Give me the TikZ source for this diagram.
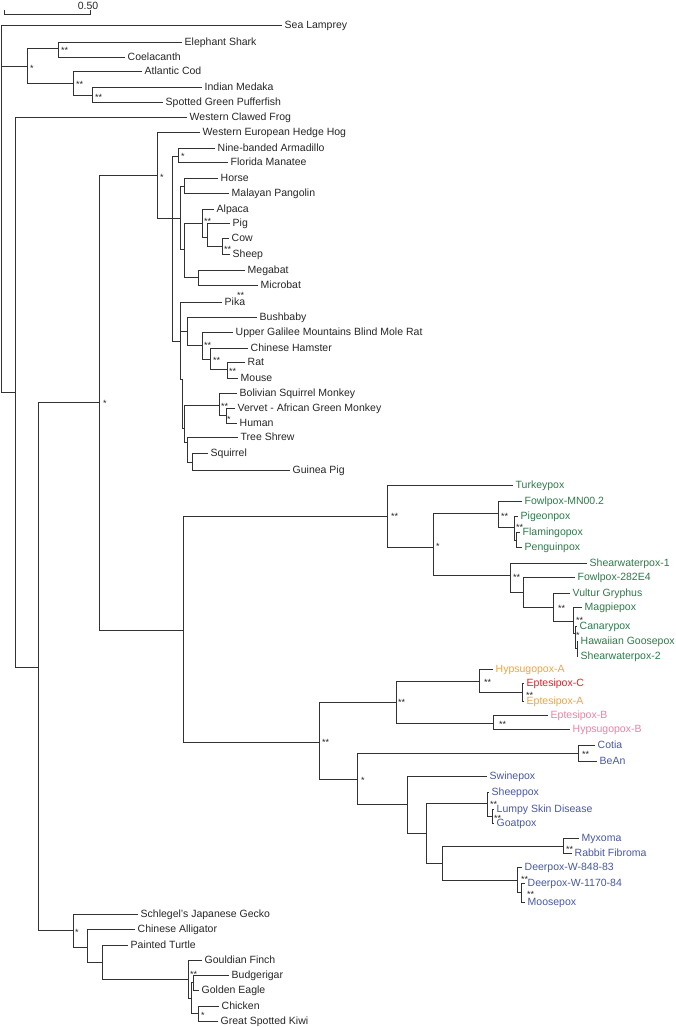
\documentclass[tikz,border=0pt]{standalone}
\usepackage{fontspec}
\setmainfont{Liberation Sans}
\definecolor{lc}{RGB}{50,50,50}
\definecolor{pg}{RGB}{45,122,75}
\definecolor{po}{RGB}{235,165,70}
\definecolor{pr}{RGB}{225,35,35}
\definecolor{pp}{RGB}{235,130,165}
\definecolor{pb}{RGB}{72,88,160}
\begin{document}
\begin{tikzpicture}[x=1pt,y=-1pt,
  br/.style={draw=lc,line width=0.85pt},
  tip/.style={anchor=west,inner xsep=2.5pt,inner ysep=0pt,text height=7.2pt,text depth=0pt,font=\fontsize{10.5}{12}\selectfont,text=black!85},
  gtip/.style={tip,text=pg},
  otip/.style={tip,text=po},
  rtip/.style={tip,text=pr},
  ptip/.style={tip,text=pp},
  btip/.style={tip,text=pb},
  supp/.style={anchor=base west,inner sep=0pt,yshift=-1.4pt,font=\fontsize{9}{10}\selectfont,text=black!85}]
\useasboundingbox (0,0) rectangle (675,1027);
% scale bar
\coordinate (sba) at (4,14);
\coordinate (sbb) at (90,14);
\draw[br] (4,10) -- (sba) -- (sbb) -- (90,10);
\node[font=\fontsize{10.5}{12}\selectfont,inner sep=0pt,text=black!85] (sbl) at (88,5.5) {0.50};
% internal coordinates
\coordinate (root) at (1,25);
\coordinate (fish) at (27,66);
\coordinate (fa) at (58,48);
\coordinate (fb) at (73,83);
\coordinate (fc) at (92,95);
\coordinate (n15) at (15,392);
\coordinate (T) at (38,667);
\coordinate (M) at (99,402);
\coordinate (Mm) at (157,175);
\coordinate (N1) at (172,218);
\coordinate (AM) at (178,156);
\coordinate (L) at (180,218);
\coordinate (HP) at (184,186);
\coordinate (L2) at (184,249);
\coordinate (A1) at (202,223);
\coordinate (PC) at (207,237);
\coordinate (CS) at (222,246);
\coordinate (Bats) at (198,277);
\coordinate (Lower) at (180,341);
\coordinate (BB) at (187,331);
\coordinate (R) at (202,345);
\coordinate (R2) at (210,359);
\coordinate (R3) at (227,369);
\coordinate (E) at (182,379);
\coordinate (F) at (184,428);
\coordinate (P1) at (219,405);
\coordinate (P2) at (226,415);
\coordinate (G) at (187,442);
\coordinate (H) at (192,462);
\coordinate (Pox) at (183,630);
\coordinate (Pt) at (387,516);
\coordinate (Av) at (433,547);
\coordinate (Fp) at (498,513);
\coordinate (Pg) at (514,527);
\coordinate (Pg2) at (516,540);
\coordinate (Sh) at (510,575);
\coordinate (Fw) at (523,592);
\coordinate (Vg) at (553,607);
\coordinate (Mg) at (573,621);
\coordinate (C1) at (575,633);
\coordinate (C2) at (577,648);
\coordinate (Bn) at (319,742);
\coordinate (Ba) at (396,702);
\coordinate (Ha) at (479,681);
\coordinate (Ec) at (522,692);
\coordinate (Eb) at (493,723);
\coordinate (Ch) at (357,779);
\coordinate (CB) at (578,753);
\coordinate (Sw) at (407,804);
\coordinate (Ot) at (426,833);
\coordinate (Cap) at (487,803);
\coordinate (Cap2) at (492,816);
\coordinate (LD) at (442,863);
\coordinate (Myx) at (563,846);
\coordinate (D1) at (517,880);
\coordinate (D2) at (521,892);
\coordinate (Rep) at (73,930);
\coordinate (Rep2) at (87,947);
\coordinate (Rep3) at (102,962);
\coordinate (B0) at (188,979);
\coordinate (B1) at (191,998);
\coordinate (B2) at (193,982);
\coordinate (CK) at (198,1013);
% tips
\node[tip] (sea) at (282,25) {Sea Lamprey};
\node[tip] (esh) at (182,42) {Elephant Shark};
\node[tip] (coe) at (125,57) {Coelacanth};
\node[tip] (cod) at (142,71) {Atlantic Cod};
\node[tip] (med) at (202,87) {Indian Medaka};
\node[tip] (puf) at (163,102) {Spotted Green Pufferfish};
\node[tip] (frog) at (187,117) {Western Clawed Frog};
\node[tip] (hed) at (200,132) {Western European Hedge Hog};
\node[tip] (arm) at (215,148) {Nine-banded Armadillo};
\node[tip] (man) at (228,162) {Florida Manatee};
\node[tip] (hor) at (218,178) {Horse};
\node[tip] (pan) at (229,193) {Malayan Pangolin};
\node[tip] (alp) at (214,209) {Alpaca};
\node[tip] (pig) at (230,223) {Pig};
\node[tip] (cow) at (229,238) {Cow};
\node[tip] (she) at (230,254) {Sheep};
\node[tip] (meg) at (245,270) {Megabat};
\node[tip] (mic) at (258,285) {Microbat};
\node[tip] (pik) at (222,302) {Pika};
\node[tip] (bus) at (257,317) {Bushbaby};
\node[tip] (upp) at (233,332) {Upper Galilee Mountains Blind Mole Rat};
\node[tip] (ham) at (248,348) {Chinese Hamster};
\node[tip] (rat) at (245,362) {Rat};
\node[tip] (mou) at (238,378) {Mouse};
\node[tip] (bol) at (237,393) {Bolivian Squirrel Monkey};
\node[tip] (ver) at (235,408) {Vervet - African Green Monkey};
\node[tip] (hum) at (237,423) {Human};
\node[tip] (tre) at (238,437) {Tree Shrew};
\node[tip] (squ) at (208,453) {Squirrel};
\node[tip] (gui) at (290,470) {Guinea Pig};
\node[gtip] (tur) at (513,485) {Turkeypox};
\node[gtip] (fmn) at (522,501) {Fowlpox-MN00.2};
\node[gtip] (pgn) at (518,516) {Pigeonpox};
\node[gtip] (fla) at (520,532) {Flamingopox};
\node[gtip] (pen) at (522,547) {Penguinpox};
\node[gtip] (sw1) at (587,563) {Shearwaterpox-1};
\node[gtip] (f28) at (575,577) {Fowlpox-282E4};
\node[gtip] (vul) at (570,593) {Vultur Gryphus};
\node[gtip] (mag) at (582,607) {Magpiepox};
\node[gtip] (can) at (577,626) {Canarypox};
\node[gtip] (haw) at (578,641) {Hawaiian Goosepox};
\node[gtip] (sw2) at (578,656) {Shearwaterpox-2};
\node[otip] (hya) at (493,669) {Hypsugopox-A};
\node[rtip] (epc) at (524,683) {Eptesipox-C};
\node[otip] (epa) at (524,701) {Eptesipox-A};
\node[ptip] (epb) at (548,715) {Eptesipox-B};
\node[ptip] (hyb) at (570,729) {Hypsugopox-B};
\node[btip] (cot) at (595,745) {Cotia};
\node[btip] (bea) at (597,761) {BeAn};
\node[btip] (swi) at (487,776) {Swinepox};
\node[btip] (shp) at (489,792) {Sheeppox};
\node[btip] (lum) at (494,809) {Lumpy Skin Disease};
\node[btip] (goa) at (494,823) {Goatpox};
\node[btip] (myx) at (579,838) {Myxoma};
\node[btip] (rab) at (572,853) {Rabbit Fibroma};
\node[btip] (d84) at (522,867) {Deerpox-W-848-83};
\node[btip] (d11) at (525,883) {Deerpox-W-1170-84};
\node[btip] (moo) at (525,902) {Moosepox};
\node[tip] (gec) at (138,914) {Schlegel's Japanese Gecko};
\node[tip] (all) at (135,929) {Chinese Alligator};
\node[tip] (tut) at (128,945) {Painted Turtle};
\node[tip] (gou) at (202,960) {Gouldian Finch};
\node[tip] (bud) at (229,975) {Budgerigar};
\node[tip] (eag) at (199,990) {Golden Eagle};
\node[tip] (chi) at (219,1006) {Chicken};
\node[tip] (kiw) at (218,1021) {Great Spotted Kiwi};
% connectors
\draw[br] (root) |- (sea.west);
\draw[br] (root) |- (fish);
\draw[br] (root) |- (n15);
\draw[br] (fish) |- (fa);
\draw[br] (fish) |- (fb);
\draw[br] (fa) |- (esh.west);
\draw[br] (fa) |- (coe.west);
\draw[br] (fb) |- (cod.west);
\draw[br] (fb) |- (fc);
\draw[br] (fc) |- (med.west);
\draw[br] (fc) |- (puf.west);
\draw[br] (n15) |- (frog.west);
\draw[br] (n15) |- (T);
\draw[br] (T) |- (M);
\draw[br] (T) |- (Rep);
\draw[br] (M) |- (Mm);
\draw[br] (M) |- (Pox);
\draw[br] (Mm) |- (hed.west);
\draw[br] (Mm) |- (N1);
\draw[br] (N1) |- (AM);
\draw[br] (N1) |- (L);
\draw[br] (N1) |- (Lower);
\draw[br] (AM) |- (arm.west);
\draw[br] (AM) |- (man.west);
\draw[br] (L) |- (HP);
\draw[br] (L) |- (L2);
\draw[br] (HP) |- (hor.west);
\draw[br] (HP) |- (pan.west);
\draw[br] (L2) |- (A1);
\draw[br] (L2) |- (Bats);
\draw[br] (A1) |- (alp.west);
\draw[br] (A1) |- (PC);
\draw[br] (PC) |- (pig.west);
\draw[br] (PC) |- (CS);
\draw[br] (CS) |- (cow.west);
\draw[br] (CS) |- (she.west);
\draw[br] (Bats) |- (meg.west);
\draw[br] (Bats) |- (mic.west);
\draw[br] (Lower) |- (pik.west);
\draw[br] (Lower) |- (BB);
\draw[br] (Lower) |- (E);
\draw[br] (BB) |- (bus.west);
\draw[br] (BB) |- (R);
\draw[br] (R) |- (upp.west);
\draw[br] (R) |- (R2);
\draw[br] (R2) |- (ham.west);
\draw[br] (R2) |- (R3);
\draw[br] (R3) |- (rat.west);
\draw[br] (R3) |- (mou.west);
\draw[br] (E) |- (F);
\draw[br] (F) |- (P1);
\draw[br] (F) |- (G);
\draw[br] (P1) |- (bol.west);
\draw[br] (P1) |- (P2);
\draw[br] (P2) |- (ver.west);
\draw[br] (P2) |- (hum.west);
\draw[br] (G) |- (tre.west);
\draw[br] (G) |- (H);
\draw[br] (H) |- (squ.west);
\draw[br] (H) |- (gui.west);
\draw[br] (Pox) |- (Pt);
\draw[br] (Pox) |- (Bn);
\draw[br] (Pt) |- (tur.west);
\draw[br] (Pt) |- (Av);
\draw[br] (Av) |- (Fp);
\draw[br] (Av) |- (Sh);
\draw[br] (Fp) |- (fmn.west);
\draw[br] (Fp) |- (Pg);
\draw[br] (Pg) |- (pgn.west);
\draw[br] (Pg) |- (Pg2);
\draw[br] (Pg2) |- (fla.west);
\draw[br] (Pg2) |- (pen.west);
\draw[br] (Sh) |- (sw1.west);
\draw[br] (Sh) |- (Fw);
\draw[br] (Fw) |- (f28.west);
\draw[br] (Fw) |- (Vg);
\draw[br] (Vg) |- (vul.west);
\draw[br] (Vg) |- (Mg);
\draw[br] (Mg) |- (mag.west);
\draw[br] (Mg) |- (C1);
\draw[br] (C1) |- (can.west);
\draw[br] (C1) |- (C2);
\draw[br] (C2) |- (haw.west);
\draw[br] (C2) |- (sw2.west);
\draw[br] (Bn) |- (Ba);
\draw[br] (Bn) |- (Ch);
\draw[br] (Ba) |- (Ha);
\draw[br] (Ba) |- (Eb);
\draw[br] (Ha) |- (hya.west);
\draw[br] (Ha) |- (Ec);
\draw[br] (Ec) |- (epc.west);
\draw[br] (Ec) |- (epa.west);
\draw[br] (Eb) |- (epb.west);
\draw[br] (Eb) |- (hyb.west);
\draw[br] (Ch) |- (CB);
\draw[br] (Ch) |- (Sw);
\draw[br] (CB) |- (cot.west);
\draw[br] (CB) |- (bea.west);
\draw[br] (Sw) |- (swi.west);
\draw[br] (Sw) |- (Ot);
\draw[br] (Ot) |- (Cap);
\draw[br] (Ot) |- (LD);
\draw[br] (Cap) |- (shp.west);
\draw[br] (Cap) |- (Cap2);
\draw[br] (Cap2) |- (lum.west);
\draw[br] (Cap2) |- (goa.west);
\draw[br] (LD) |- (Myx);
\draw[br] (LD) |- (D1);
\draw[br] (Myx) |- (myx.west);
\draw[br] (Myx) |- (rab.west);
\draw[br] (D1) |- (d84.west);
\draw[br] (D1) |- (D2);
\draw[br] (D2) |- (d11.west);
\draw[br] (D2) |- (moo.west);
\draw[br] (Rep) |- (gec.west);
\draw[br] (Rep) |- (Rep2);
\draw[br] (Rep2) |- (all.west);
\draw[br] (Rep2) |- (Rep3);
\draw[br] (Rep3) |- (tut.west);
\draw[br] (Rep3) |- (B0);
\draw[br] (B0) |- (gou.west);
\draw[br] (B0) |- (B1);
\draw[br] (B1) |- (B2);
\draw[br] (B1) |- (CK);
\draw[br] (B2) |- (bud.west);
\draw[br] (B2) |- (eag.west);
\draw[br] (CK) |- (chi.west);
\draw[br] (CK) |- (kiw.west);
% support values
\node[supp] (s01) at (30,70) {*};
\node[supp] (s02) at (61,52) {**};
\node[supp] (s03) at (76,86) {**};
\node[supp] (s04) at (95,99) {**};
\node[supp] (s05) at (103,405) {*};
\node[supp] (s06) at (160,179) {*};
\node[supp] (s07) at (181,158) {*};
\node[supp] (s08) at (204,223) {**};
\node[supp] (s09) at (224,251) {**};
\node[supp] (s10) at (237,297) {**};
\node[supp] (s11) at (204,347) {**};
\node[supp] (s12) at (213,362) {**};
\node[supp] (s13) at (229,373) {**};
\node[supp] (s14) at (221,408) {**};
\node[supp] (s15) at (227,421) {*};
\node[supp] (s16) at (391,518) {**};
\node[supp] (s17) at (436,548) {*};
\node[supp] (s18) at (501,518) {**};
\node[supp] (s19) at (516,529) {**};
\node[supp] (s20) at (513,579) {**};
\node[supp] (s21) at (558,610) {**};
\node[supp] (s22) at (576,622) {**};
\node[supp] (s23) at (576,637) {*};
\node[supp] (s24) at (484,684) {**};
\node[supp] (s25) at (526,697) {**};
\node[supp] (s26) at (398,704) {**};
\node[supp] (s27) at (499,726) {**};
\node[supp] (s28) at (322,744) {**};
\node[supp] (s29) at (361,782) {*};
\node[supp] (s30) at (582,756) {**};
\node[supp] (s31) at (490,806) {**};
\node[supp] (s32) at (494,820) {**};
\node[supp] (s33) at (566,851) {**};
\node[supp] (s34) at (521,881) {**};
\node[supp] (s35) at (527,896) {**};
\node[supp] (s36) at (75,934) {*};
\node[supp] (s37) at (190,976) {**};
\node[supp] (s38) at (201,1017) {*};
\end{tikzpicture}
\end{document}
